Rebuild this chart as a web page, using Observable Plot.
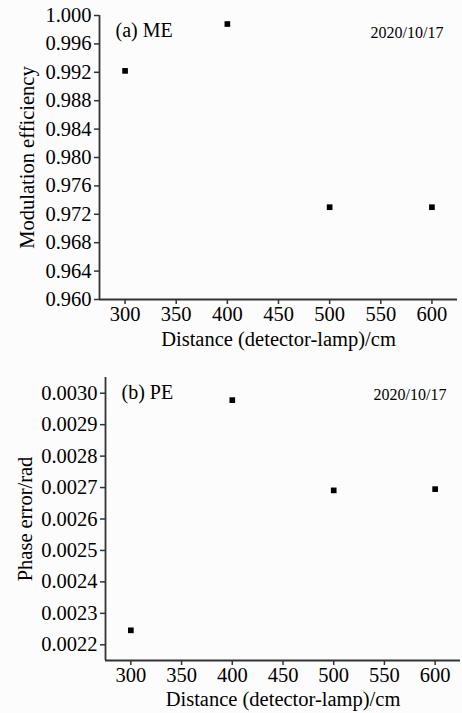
<!DOCTYPE html>
<html>
<head>
<meta charset="utf-8">
<script src="https://cdn.jsdelivr.net/npm/d3@7"></script>
<script src="https://cdn.jsdelivr.net/npm/@observablehq/plot@0.6"></script>
<style>
  html, body { margin: 0; padding: 0; background: #fcfcfc; }
  #chart svg { display: block; background: #fcfcfc; overflow: visible; }
</style>
</head>
<body>
<div id="chart"></div>
<script>
// Data
const distances = [300, 400, 500, 600];
const meValues = [0.9922, 0.9988, 0.9730, 0.9730];
const peValues = [0.002246, 0.002978, 0.002691, 0.002695];
const xTicks = [300, 350, 400, 450, 500, 550, 600];
const xDomain = [275, 625];
const meDomain = [0.960, 1.000];
const meTicks = [0.960, 0.964, 0.968, 0.972, 0.976, 0.980, 0.984, 0.988, 0.992, 0.996, 1.000];
const peDomain = [0.00215, 0.00305];
const peTicks = [0.0022, 0.0023, 0.0024, 0.0025, 0.0026, 0.0027, 0.0028, 0.0029, 0.0030];
const dateLabel = "2020/10/17";
const xLabel = "Distance (detector-lamp)/cm";

const font = "'Liberation Serif', 'Times New Roman', serif";

function panel({values, yDomain, yTicks, fmt, yLabel, tag, width, height, mt, mb, ml, mr, yLabelOffset, xLabelOffset}) {
  const data = distances.map((d, i) => ({x: d, y: values[i]}));
  return Plot.plot({
    width, height,
    marginTop: mt, marginBottom: mb, marginLeft: ml, marginRight: mr,
    style: {fontFamily: font, fontSize: "20px", color: "#000", background: "#fcfcfc"},
    x: {domain: xDomain},
    y: {domain: yDomain},
    marks: [
      Plot.ruleX([xDomain[0]], {stroke: "#333", strokeWidth: 1.8}),
      Plot.ruleY([yDomain[0]], {stroke: "#333", strokeWidth: 1.8}),
      Plot.axisX({ticks: xTicks, tickSize: 5, tickPadding: 2, tickFormat: d3.format("d"),
        label: xLabel, labelAnchor: "center", labelArrow: "none", labelOffset: xLabelOffset,
        fontSize: 20.5, stroke: "#333", strokeWidth: 1.5}),
      Plot.axisY({ticks: yTicks, tickSize: 5, tickPadding: 3, tickFormat: d3.format(fmt),
        label: yLabel, labelAnchor: "center", labelArrow: "none", labelOffset: yLabelOffset,
        fontSize: 20.5, stroke: "#333", strokeWidth: 1.5}),
      Plot.dot(data, {x: "x", y: "y", symbol: "square", r: 3.2, fill: "#000", stroke: null}),
      Plot.text([tag], {frameAnchor: "top-left", dx: 16, dy: 7, fontSize: 20, fill: "#000", textAnchor: "start"}),
      Plot.text([dateLabel], {frameAnchor: "top-right", dx: -14, dy: 11, fontSize: 16, fill: "#000", textAnchor: "end"})
    ]
  });
}

const p1 = panel({values: meValues, yDomain: meDomain, yTicks: meTicks, fmt: ".3f",
  yLabel: "Modulation efficiency", tag: "(a) ME",
  width: 462, height: 354, mt: 15, mb: 55, ml: 99, mr: 5, yLabelOffset: 80, xLabelOffset: 46});
const p2 = panel({values: peValues, yDomain: peDomain, yTicks: peTicks, fmt: ".4f",
  yLabel: "Phase error/rad", tag: "(b) PE",
  width: 462, height: 359, mt: 23, mb: 53, ml: 105, mr: 2, yLabelOffset: 88, xLabelOffset: 45});
const c = document.getElementById("chart");
c.append(p1, p2);
</script>
</body>
</html>
